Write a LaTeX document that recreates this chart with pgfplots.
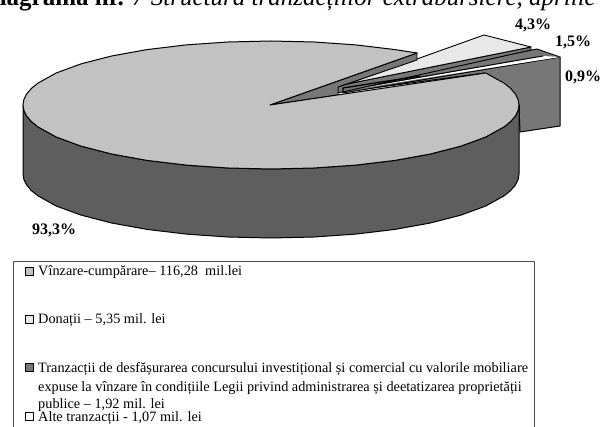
\documentclass[border=0pt]{standalone}
\usepackage{pgfplots}
\pgfplotsset{compat=1.18}
\usepackage{fontspec}
\setmainfont{Liberation Serif}
\definecolor{ptop}{HTML}{C2C2C2}
\definecolor{pside}{HTML}{5E5E5E}
\definecolor{pmid}{HTML}{777777}
\definecolor{plight}{HTML}{E8E8E8}
\begin{document}
\begin{tikzpicture}[x=1pt,y=1pt]
\path[use as bounding box] (0,0) rectangle (602,427);
\clip (0,0) rectangle (602,427);
\begin{axis}[
  at={(0,0)},anchor=south west,
  scale only axis,width=602pt,height=427pt,
  xmin=0,xmax=602,ymin=0,ymax=427,y dir=reverse,
  hide axis,clip=false,
  every axis plot/.append style={line join=round,line cap=round},
]
% Exploded slices: shared side face
\addplot[draw=black,line width=1pt,fill=pmid] coordinates {(343,92)(560,57)(560,126)(520,132)(519,105)(485,73)(343,92)};
% 1,5% slice
\addplot[draw=black,line width=0.9pt,fill=pmid] coordinates {(343,93)(343,88)(537,49)(560,57)(343,93)};
% 0,9% slice
\addplot[draw=none,fill=white] coordinates {(362,88)(543,56)(560,57)(362,88)};
\addplot[draw=black,line width=1pt] coordinates {(345,90)(543,56)};
% 4,3% slice side and top
\addplot[draw=black,line width=0.9pt,fill=pmid] coordinates {(338,93)(338,87)(347,84)(531,47)(531,50)(338,93)};
\addplot[draw=black,line width=0.9pt,fill=plight] coordinates {(347,84)(484,35)(531,47)(347,84)};
\addplot[draw=black,line width=1.3pt] coordinates {(343,92)(343,88)(420,76)};
% inner face of the main slice
\addplot[draw=black,line width=0.9pt,fill=pmid] coordinates {(270,105)(417,53)(417,60)(338,87)(338,95)(270,105)};
% main slice: side
\addplot[draw=black,line width=1pt,fill=pside] coordinates {
(23,105)(23.9,110.6)(26.7,116.1)(31.4,121.6)(38,126.9)(56.2,137)(81,146.1)(111.6,154)(147,160.4)(186.2,165.1)(227.9,168)(271,169)
(314.1,168)(355.8,165.1)(395,160.4)(430.4,154)(461,146.1)(485.8,137)(504,126.9)(510.6,121.6)(515.3,116.1)(518.1,110.6)(519,105)
(519,174)(518.1,179.6)(515.3,185.1)(510.6,190.6)(504,195.9)(485.8,206)(461,215.1)(430.4,223)(395,229.4)(355.8,234.1)(314.1,237)(271,238)
(227.9,237)(186.2,234.1)(147,229.4)(111.6,223)(81,215.1)(56.2,206)(38,195.9)(31.4,190.6)(26.7,185.1)(23.9,179.6)(23,174)(23,105)};
% main slice: top
\addplot[draw=black,line width=1pt,fill=ptop] coordinates {
(270,105)(485.8,73)(504,83.1)(510.6,88.4)(515.3,93.9)(518.1,99.4)(519,105)
(518.1,110.6)(515.3,116.1)(510.6,121.6)(504,126.9)(485.8,137)(461,146.1)(430.4,154)(395,160.4)(355.8,165.1)(314.1,168)(271,169)
(227.9,168)(186.2,165.1)(147,160.4)(111.6,154)(81,146.1)(56.2,137)(38,126.9)(31.4,121.6)(26.7,116.1)(23.9,110.6)(23,105)
(23.9,99.4)(26.7,93.9)(31.4,88.4)(38,83.1)(56.2,73)(81,63.9)(111.6,56)(147,49.6)(186.2,44.9)(227.9,42)(271,41)
(314.1,42)(355.8,44.9)(395,49.6)(417,53)(270,105)};
% legend frame
\addplot[draw=black!70,line width=0.9pt] coordinates {(13,428)(13,261)(534,261)(534,428)};
% legend markers
\addplot[only marks,mark=square*,mark size=4pt,mark options={draw=black,line width=1pt,fill=ptop}] coordinates {(29,272)};
\addplot[only marks,mark=square*,mark size=4pt,mark options={draw=black,line width=1pt,fill=plight}] coordinates {(29,320)};
\addplot[only marks,mark=square*,mark size=4pt,mark options={draw=black,line width=1pt,fill=pmid}] coordinates {(29,367)};
\addplot[only marks,mark=square*,mark size=4pt,mark options={draw=black,line width=1pt,fill=white}] coordinates {(29,416)};
% labels
\def\lab#1#2#3{\node[anchor=base west,inner sep=0pt,font=\fontsize{16}{16}\selectfont\bfseries] at (axis cs:#1,#2) {#3};}
\lab{515}{30}{4,3\%}
\lab{555}{47}{1,5\%}
\lab{565}{82}{0,9\%}
\lab{32}{235}{93,3\%}
% legend text
\def\leg#1#2{\node[anchor=base west,inner sep=0pt,font=\fontsize{14.3}{14.3}\selectfont] at (axis cs:38,#1) {#2};}
\leg{276}{Vînzare-cumpărare– 116,28\ \ mil.lei}
\leg{324}{Donații – 5,35 mil. lei}
\leg{372}{Tranzacții de desfășurarea concursului investițional și comercial cu valorile mobiliare}
\leg{391}{expuse la vînzare în condițiile Legii privind administrarea și deetatizarea proprietății}
\leg{408}{publice – 1,92 mil. lei}
\leg{421}{Alte tranzacții - 1,07 mil. lei}
% title, cut by the top edge
\node[anchor=base east,inner sep=0pt,font=\fontsize{25}{25}\selectfont] at (axis cs:596,6) {\textbf{Diagrama nr.} \textit{7 Structura tranzacțiilor extrabursiere, aprilie}};
\end{axis}
\end{tikzpicture}
\end{document}
